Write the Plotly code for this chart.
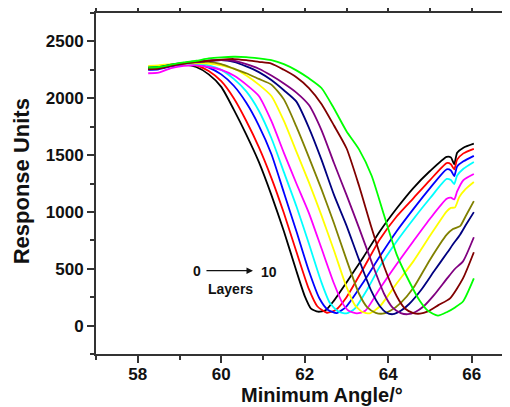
import plotly.graph_objects as go

# ---- data ----
layers = ["0", "1", "2", "3", "4", "5", "6", "7", "8", "9", "10"]
colors = ["#000000", "#FF0000", "#0000FF", "#00FFFF", "#FF00FF", "#FFFF00",
          "#808000", "#000080", "#800080", "#800000", "#00FF00"]

x0 = [58.25, 58.5, 58.8, 59.1, 59.4, 59.7, 60.0, 60.3, 60.6, 60.9, 61.2, 61.5, 61.8, 62.0, 62.15, 62.32, 62.5, 62.7, 63.0, 63.4, 63.8, 64.2, 64.6, 65.0, 65.4, 65.5, 65.58, 65.65, 65.8, 66.05]
y0 = [2260, 2262, 2285, 2295, 2275, 2210, 2100, 1900, 1680, 1440, 1150, 830, 480, 260, 150, 122, 135, 220, 380, 600, 830, 1030, 1210, 1360, 1485, 1480, 1420, 1520, 1565, 1600]

x1 = [58.25, 58.5, 58.8, 59.1, 59.4, 59.7, 60.0, 60.3, 60.6, 60.9, 61.2, 61.5, 61.8, 62.1, 62.3, 62.53, 62.75, 63.0, 63.4, 63.8, 64.2, 64.6, 65.0, 65.4, 65.5, 65.58, 65.65, 65.8, 66.05]
y1 = [2270, 2275, 2290, 2300, 2290, 2240, 2150, 2000, 1800, 1570, 1300, 990, 650, 320, 170, 113, 140, 250, 500, 760, 960, 1120, 1280, 1430, 1420, 1375, 1460, 1515, 1555]

x2 = [58.25, 58.5, 58.8, 59.1, 59.4, 59.7, 60.0, 60.3, 60.6, 60.9, 61.2, 61.5, 61.8, 62.1, 62.35, 62.55, 62.77, 63.0, 63.4, 63.8, 64.2, 64.6, 65.0, 65.4, 65.5, 65.58, 65.65, 65.8, 66.05]
y2 = [2250, 2255, 2280, 2300, 2300, 2270, 2210, 2110, 1960, 1760, 1510, 1170, 830, 480, 240, 140, 110, 170, 380, 610, 830, 1025, 1210, 1375, 1365, 1315, 1400, 1445, 1493]

x3 = [58.25, 58.5, 58.8, 59.1, 59.4, 59.7, 60.0, 60.3, 60.6, 60.9, 61.2, 61.5, 61.8, 62.1, 62.4, 62.6, 62.8, 63.0, 63.2, 63.5, 63.8, 64.2, 64.6, 65.0, 65.4, 65.5, 65.58, 65.65, 65.8, 66.05]
y3 = [2275, 2280, 2290, 2300, 2300, 2290, 2250, 2170, 2060, 1890, 1650, 1350, 1050, 720, 380, 200, 125, 108, 150, 320, 521, 740, 936, 1120, 1290, 1280, 1245, 1320, 1380, 1440]

x4 = [58.25, 58.5, 58.8, 59.1, 59.4, 59.7, 60.0, 60.3, 60.6, 60.9, 61.2, 61.5, 61.8, 62.1, 62.4, 62.7, 62.9, 63.05, 63.25, 63.45, 63.8, 64.2, 64.6, 65.0, 65.4, 65.5, 65.58, 65.65, 65.8, 66.05]
y4 = [2220, 2225, 2265, 2285, 2290, 2275, 2250, 2200, 2120, 2020, 1800, 1520, 1250, 990, 680, 370, 200, 130, 108, 130, 327, 540, 742, 940, 1115, 1125, 1110, 1180, 1280, 1334]

x5 = [58.25, 58.5, 58.8, 59.1, 59.4, 59.7, 60.0, 60.3, 60.6, 60.9, 61.2, 61.5, 61.8, 62.1, 62.4, 62.7, 63.0, 63.2, 63.38, 63.56, 63.8, 64.2, 64.6, 65.0, 65.4, 65.5, 65.6, 65.7, 65.85, 66.05]
y5 = [2285, 2290, 2300, 2305, 2310, 2305, 2290, 2260, 2200, 2120, 2020, 1800, 1530, 1260, 970, 660, 340, 180, 120, 108, 170, 370, 565, 790, 1005, 1035, 1040, 1130, 1200, 1263]

x6 = [58.25, 58.5, 58.8, 59.1, 59.4, 59.7, 60.0, 60.3, 60.6, 60.9, 61.2, 61.5, 61.8, 62.1, 62.4, 62.7, 63.0, 63.3, 63.5, 63.7, 63.87, 64.05, 64.3, 64.6, 65.0, 65.4, 65.55, 65.72, 65.85, 66.05]
y6 = [2265, 2270, 2290, 2305, 2315, 2320, 2300, 2260, 2220, 2170, 2120, 1990, 1750, 1480, 1200, 900, 580, 280, 160, 112, 105, 130, 200, 330, 580, 800, 850, 875, 960, 1095]

x7 = [58.25, 58.5, 58.8, 59.1, 59.4, 59.7, 60.0, 60.3, 60.6, 60.9, 61.2, 61.5, 61.8, 62.1, 62.4, 62.7, 63.0, 63.3, 63.6, 63.8, 63.95, 64.11, 64.3, 64.5, 64.8, 65.1, 65.41, 65.55, 65.72, 65.85, 66.05]
y7 = [2270, 2275, 2295, 2310, 2320, 2330, 2335, 2320, 2280, 2230, 2160, 2070, 1970, 1740, 1460, 1150, 880, 580, 300, 170, 115, 100, 130, 190, 320, 480, 640, 715, 800, 880, 998]

x8 = [58.25, 58.5, 58.8, 59.1, 59.4, 59.7, 60.0, 60.3, 60.6, 60.9, 61.2, 61.5, 61.8, 62.1, 62.4, 62.7, 63.0, 63.3, 63.6, 63.9, 64.1, 64.3, 64.47, 64.65, 64.85, 65.1, 65.41, 65.6, 65.79, 66.05]
y8 = [2260, 2265, 2290, 2305, 2320, 2330, 2335, 2330, 2300, 2260, 2200, 2130, 2050, 1940, 1720, 1430, 1150, 860, 560, 280, 160, 110, 100, 120, 170, 270, 415, 500, 565, 777]

x9 = [58.25, 58.5, 58.8, 59.1, 59.4, 59.7, 60.0, 60.3, 60.6, 60.9, 61.2, 61.5, 61.8, 62.1, 62.4, 62.7, 63.0, 63.3, 63.6, 63.9, 64.2, 64.4, 64.6, 64.76, 64.95, 65.2, 65.48, 65.79, 66.05]
y9 = [2255, 2260, 2285, 2305, 2320, 2330, 2340, 2345, 2335, 2320, 2305, 2250, 2185, 2090, 1950, 1760, 1560, 1230, 860, 520, 260, 150, 110, 105, 125, 180, 240, 415, 645]

x10 = [58.25, 58.5, 58.8, 59.1, 59.4, 59.7, 60.0, 60.3, 60.6, 60.9, 61.2, 61.5, 61.8, 62.1, 62.4, 62.7, 63.0, 63.3, 63.6, 63.9, 64.2, 64.5, 64.75, 64.95, 65.19, 65.41, 65.6, 65.79, 66.05]
y10 = [2270, 2275, 2295, 2315, 2330, 2350, 2360, 2365, 2362, 2350, 2335, 2300, 2245, 2175, 2090, 1910, 1710, 1550, 1320, 970, 627, 390, 220, 130, 88, 120, 160, 212, 415]

xs = [x0, x1, x2, x3, x4, x5, x6, x7, x8, x9, x10]
ys = [y0, y1, y2, y3, y4, y5, y6, y7, y8, y9, y10]

y_ticks = [0, 500, 1000, 1500, 2000, 2500]
x_ticks = [58, 60, 62, 64, 66]

FONT = "Liberation Sans, Arial, sans-serif"
TXT = "#111111"

fig = go.Figure()
for name, c, x, y in zip(layers, colors, xs, ys):
    fig.add_trace(go.Scatter(x=x, y=y, mode="lines", name=name,
                             line=dict(color=c, width=1.8, shape="spline", smoothing=0.6),
                             showlegend=False))

axis_common = dict(showgrid=False, zeroline=False, showline=True, linecolor="#333333",
                   linewidth=2, ticks="outside", ticklen=7, tickwidth=1.5, tickcolor="#333333",
                   automargin=False,
                   tickfont=dict(family=FONT, size=17, color=TXT, weight="bold"))

fig.update_xaxes(range=[57, 66.916], tickvals=x_ticks, mirror="ticks", ticklabelstandoff=-3,
                 minor=dict(dtick=1, ticks="outside", ticklen=4, tickcolor="#333333", tickwidth=1.5),
                 **axis_common)
fig.update_yaxes(range=[-250, 2750], tickvals=y_ticks,
                 minor=dict(dtick=250, ticks="outside", ticklen=4, tickcolor="#333333", tickwidth=1.5),
                 **axis_common)

# axis titles as annotations (paper-pixel placement)
fig.add_annotation(xref="paper", yref="paper", x=0.545, y=-0.119,
                   xanchor="center", yanchor="middle",
                   text="Minimum Angle/°", showarrow=False,
                   font=dict(family=FONT, size=20, color=TXT, weight="bold"))
fig.add_annotation(xref="paper", yref="paper", x=-0.179, y=0.506, textangle=-90,
                   xanchor="center", yanchor="middle",
                   text="Response Units", showarrow=False,
                   font=dict(family=FONT, size=22, color=TXT, weight="bold"))

# annotation "0 -> 10 Layers"
fig.add_annotation(x=59.42, y=477, text="0", showarrow=False,
                   font=dict(family=FONT, size=14, color=TXT, weight="bold"))
fig.add_annotation(x=61.14, y=470, text="10", showarrow=False,
                   font=dict(family=FONT, size=14, color=TXT, weight="bold"))
fig.add_annotation(x=60.76, y=483, ax=59.61, ay=483, axref="x", ayref="y",
                   text="", showarrow=True, arrowhead=2, arrowsize=1, arrowwidth=1.3,
                   arrowcolor=TXT)
fig.add_annotation(x=60.21, y=318, text="Layers", showarrow=False,
                   font=dict(family=FONT, size=14, color=TXT, weight="bold"))

# page body has an 8px margin, so the figure is sized/offset to compensate
fig.update_layout(width=502, height=399, margin=dict(l=88, r=0, t=5, b=53),
                  plot_bgcolor="white", paper_bgcolor="white")

fig.write_html("out.html")
